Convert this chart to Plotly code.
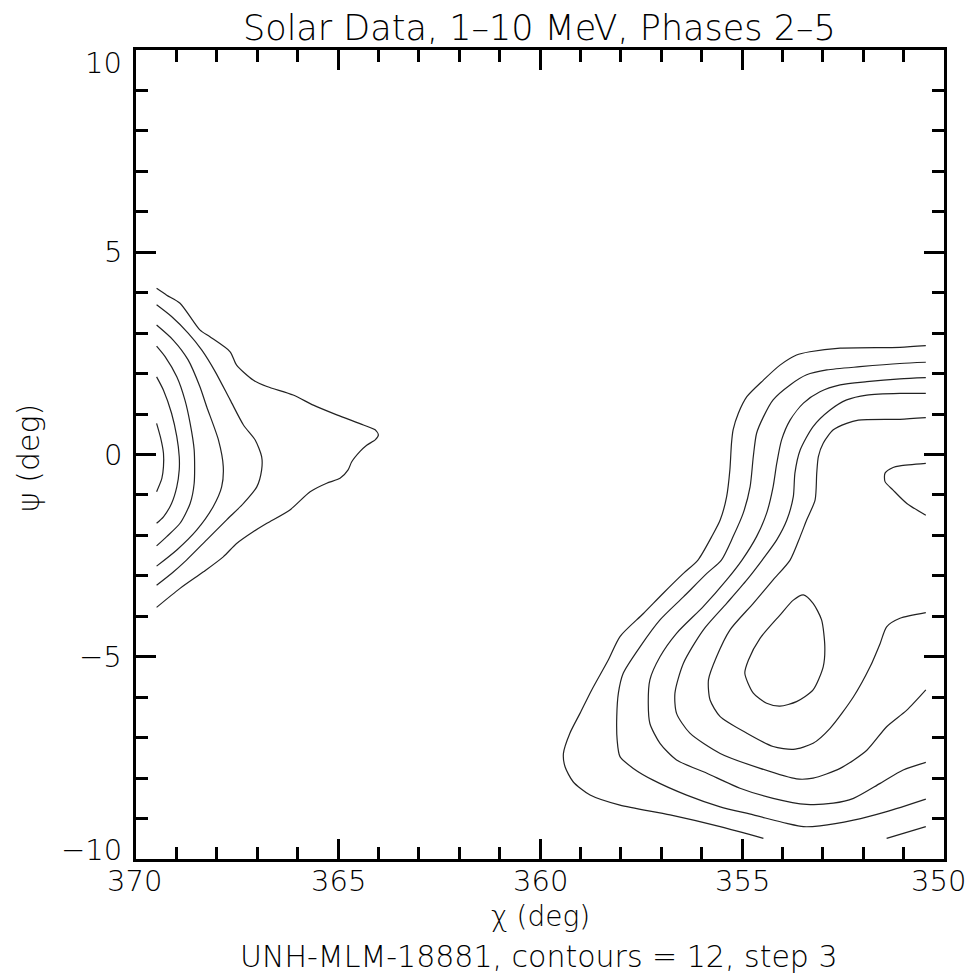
import plotly.graph_objects as go

# ---------------- text ----------------
title_text = "Solar Data, 1–10 MeV, Phases 2–5"
x_title = "χ (deg)"
y_title = "ψ (deg)"
caption = "UNH-MLM-18881, contours = 12, step 3"

x_tick_vals = [370, 365, 360, 355, 350]
x_tick_text = ["370", "365", "360", "355", "350"]
y_tick_vals = [10, 5, 0, -5, -10]
y_tick_text = ["10", "5", "0", "−5", "−10"]

# ---------------- contour lines (chi, psi) ----------------
left1_chi = [369.49, 369.39, 369.32, 369.32, 369.36, 369.49]
left1_psi = [0.77, 0.41, 0.03, -0.30, -0.59, -0.92]

left2_chi = [369.49, 369.32, 369.12, 368.99, 368.93, 368.93, 368.99, 369.12, 369.32, 369.49]
left2_psi = [1.92, 1.59, 1.02, 0.44, -0.05, -0.38, -0.80, -1.21, -1.54, -1.70]

left3_chi = [369.49, 369.28, 368.99, 368.79, 368.66, 368.56, 368.56, 368.66, 368.91, 369.24, 369.49]
left3_psi = [2.68, 2.42, 1.92, 1.35, 0.77, 0.11, -0.71, -1.21, -1.70, -2.03, -2.26]

left4_chi = [369.49, 369.08, 368.71, 368.42, 368.25, 367.96, 367.84, 367.88, 368.09, 368.50, 368.99, 369.49]
left4_psi = [3.20, 2.83, 2.34, 1.68, 1.18, 0.36, -0.30, -0.80, -1.29, -1.87, -2.36, -2.76]

left5_chi = [369.49, 369.12, 368.71, 368.37, 368.04, 367.67, 367.34, 367.05, 366.89, 366.89,
             367.01, 367.34, 367.75, 368.25, 368.75, 369.12, 369.49]
left5_psi = [3.70, 3.41, 3.00, 2.58, 2.05, 1.35, 0.73, 0.36, -0.05, -0.38,
             -0.80, -1.21, -1.61, -2.11, -2.61, -2.94, -3.23]

left6_chi = [369.49, 369.24, 368.91, 368.42, 368.17, 367.67, 367.51, 367.10, 366.76, 366.11,
             365.61, 365.03, 364.37, 364.08, 364.00, 364.08, 364.29, 364.46, 364.66, 364.75,
             364.95, 365.28, 365.69, 366.19, 366.76, 367.10, 367.51, 367.84, 368.33, 368.91, 369.49]
left6_psi = [4.11, 3.94, 3.74, 3.08, 2.91, 2.54, 2.21, 1.84, 1.68, 1.47,
             1.22, 0.98, 0.73, 0.61, 0.48, 0.36, 0.23, 0.07, -0.18, -0.38,
             -0.59, -0.71, -0.92, -1.37, -1.70, -1.91, -2.20, -2.53, -2.90, -3.31, -3.78]

right1_chi = [350.45, 351.09, 352.57, 353.32, 353.65, 354.06, 354.47, 354.88, 355.09, 355.22,
              355.26, 355.30, 355.38, 355.54, 355.75, 356.09, 356.45, 356.95, 357.44, 358.02,
              358.31, 358.72, 359.01, 359.26, 359.42, 359.38, 359.18, 358.76, 358.02, 356.78,
              355.54, 354.47]
right1_psi = [2.69, 2.65, 2.63, 2.54, 2.46, 2.21, 1.84, 1.43, 1.02, 0.61,
              0.28, -0.38, -1.04, -1.62, -2.03, -2.61, -2.94, -3.43, -3.93, -4.50,
              -5.08, -5.82, -6.40, -6.89, -7.39, -7.72, -8.09, -8.42, -8.67, -8.91,
              -9.20, -9.49]

right2_chi = [350.45, 351.09, 352.08, 352.90, 353.40, 353.81, 354.23, 354.47, 354.64, 354.72,
              354.80, 354.97, 355.22, 355.51, 355.87, 356.45, 357.03, 357.52, 357.94, 358.06,
              358.10, 358.09, 358.02, 357.69, 357.20, 356.37, 355.54, 354.72, 353.89, 353.48,
              353.07, 352.24, 351.42, 350.45]
right2_psi = [2.28, 2.25, 2.17, 2.09, 1.97, 1.72, 1.35, 0.93, 0.52, -0.05,
              -0.80, -1.45, -2.03, -2.61, -2.94, -3.52, -4.09, -4.75, -5.41, -5.90,
              -6.48, -7.06, -7.47, -7.76, -8.05, -8.42, -8.71, -8.91, -9.12, -9.20,
              -9.18, -9.04, -8.83, -8.52]

right3_chi = [350.45, 351.09, 351.91, 352.57, 353.07, 353.48, 353.81, 354.02, 354.14, 354.23,
              354.39, 354.64, 355.00, 355.38, 355.96, 356.62, 357.03, 357.28, 357.32, 357.28,
              357.03, 356.62, 355.87, 355.05, 354.23, 353.40, 352.74, 352.24, 351.58, 351.01,
              350.45]
right3_psi = [1.90, 1.87, 1.80, 1.72, 1.55, 1.27, 0.85, 0.36, -0.22, -0.80,
              -1.45, -2.03, -2.61, -3.10, -3.76, -4.42, -5.00, -5.57, -6.15, -6.65,
              -7.14, -7.55, -7.88, -8.25, -8.50, -8.65, -8.62, -8.50, -8.13, -7.80,
              -7.61]

right4_chi = [350.45, 351.09, 351.91, 352.41, 352.82, 353.24, 353.56, 353.69, 353.73, 353.89,
              354.14, 354.50, 354.88, 355.38, 355.96, 356.45, 356.66, 356.62, 356.29, 355.54,
              354.55, 353.65, 353.24, 352.57, 351.91, 351.42, 350.92, 350.45]
right4_psi = [1.51, 1.51, 1.47, 1.35, 1.10, 0.69, 0.11, -0.46, -1.04, -1.62,
              -2.11, -2.61, -3.10, -3.68, -4.34, -5.16, -5.90, -6.40, -6.89, -7.39,
              -7.76, -8.02, -8.00, -7.76, -7.31, -6.73, -6.32, -5.82]

right5_chi = [350.45, 351.09, 352.12, 352.41, 352.74, 352.99, 353.11, 353.15, 353.19, 353.40,
              353.56, 353.81, 354.23, 354.72, 355.30, 355.63, 355.83, 355.79, 355.54, 354.88,
              354.23, 353.73, 353.24, 352.82, 352.24, 351.83, 351.58, 351.42, 351.09, 350.45]
right5_psi = [0.91, 0.87, 0.85, 0.77, 0.61, 0.28, -0.05, -0.46, -1.12, -1.62,
              -2.03, -2.61, -3.10, -3.68, -4.34, -5.00, -5.57, -6.07, -6.48, -6.89,
              -7.22, -7.29, -7.14, -6.77, -5.99, -5.25, -4.67, -4.26, -4.05, -3.91]

right6_chi = [353.48, 353.24, 353.03, 352.95, 352.99, 353.24, 353.65, 354.06, 354.39, 354.72,
              354.93, 354.84, 354.55, 354.06, 353.73, 353.48]
right6_psi = [-3.47, -3.68, -4.09, -4.75, -5.25, -5.82, -6.11, -6.22, -6.15, -5.90,
              -5.41, -5.08, -4.54, -3.97, -3.60, -3.47]

right7_chi = [351.42, 350.45]
right7_psi = [-9.49, -9.20]

right8_chi = [350.45, 351.09, 351.26, 351.46, 351.46, 351.26, 350.92, 350.45]
right8_psi = [-0.22, -0.28, -0.32, -0.46, -0.67, -0.88, -1.21, -1.50]

contours = [
    (left1_chi, left1_psi), (left2_chi, left2_psi), (left3_chi, left3_psi),
    (left4_chi, left4_psi), (left5_chi, left5_psi), (left6_chi, left6_psi),
    (right1_chi, right1_psi), (right2_chi, right2_psi), (right3_chi, right3_psi),
    (right4_chi, right4_psi), (right5_chi, right5_psi), (right6_chi, right6_psi),
    (right7_chi, right7_psi), (right8_chi, right8_psi),
]

FONT = "DejaVu Sans ExtraLight, DejaVu Sans"
W, H = 975, 975
L, R, T, B = 136, 31, 50, 116
PW, PH = W - L - R, H - T - B


def px2paper(px):
    return (px - L) / PW


def py2paper(py):
    return (H - B - py) / PH


fig = go.Figure()
for cx, cy in contours:
    fig.add_trace(go.Scatter(
        x=cx, y=cy, mode="lines",
        line=dict(color="#222222", width=1.2, shape="spline", smoothing=0.7),
        hoverinfo="skip", showlegend=False,
    ))

axis_common = dict(
    showgrid=False, zeroline=False, showline=True, linewidth=3, linecolor="black",
    mirror="ticks", ticks="inside", ticklen=20, tickwidth=3, tickcolor="black",
    showticklabels=False,
    minor=dict(ticks="inside", ticklen=12, tickwidth=2.5, tickcolor="black",
               dtick=1, showgrid=False),
)

fig.update_xaxes(range=[370, 350], tickmode="linear", tick0=350, dtick=5, **axis_common)
fig.update_yaxes(range=[-10, 10], tickmode="linear", tick0=-10, dtick=5, **axis_common)

annotations = []
# x tick labels
for v, t in zip(x_tick_vals, x_tick_text):
    shift = 0
    if v == x_tick_vals[0]:
        shift = -2
    elif v == x_tick_vals[-1]:
        shift = -6
    annotations.append(dict(
        x=v, xref="x", y=py2paper(881), yref="paper", text=t, showarrow=False,
        xanchor="center", yanchor="middle", xshift=shift,
        font=dict(family=FONT, size=29, color="black", weight=200),
    ))
# y tick labels
for v, t in zip(y_tick_vals, y_tick_text):
    shift = 0
    if v == y_tick_vals[0]:
        shift = -13
    elif v == y_tick_vals[-1]:
        shift = 9
    annotations.append(dict(
        x=px2paper(124), xref="paper", y=v, yref="y", text=t, showarrow=False,
        xanchor="right", yanchor="middle", yshift=shift,
        font=dict(family=FONT, size=29, color="black", weight=200),
    ))

annotations += [
    dict(x=px2paper(539), y=py2paper(28), xref="paper", yref="paper", text=title_text,
         showarrow=False, xanchor="center", yanchor="middle",
         font=dict(family=FONT, size=35, color="black", weight=200)),
    dict(x=px2paper(540), y=py2paper(917), xref="paper", yref="paper", text=x_title,
         showarrow=False, xanchor="center", yanchor="middle",
         font=dict(family=FONT, size=28, color="black", weight=200)),
    dict(x=px2paper(539), y=py2paper(956), xref="paper", yref="paper", text=caption,
         showarrow=False, xanchor="center", yanchor="middle",
         font=dict(family=FONT, size=30, color="black", weight=200)),
    dict(x=px2paper(28), y=py2paper(458), xref="paper", yref="paper", text=y_title,
         showarrow=False, xanchor="center", yanchor="middle", textangle=-90,
         font=dict(family=FONT, size=30, color="black", weight=200)),
]

fig.update_layout(
    width=W, height=H,
    margin=dict(l=L, r=R, t=T, b=B, pad=0),
    plot_bgcolor="white", paper_bgcolor="white",
    showlegend=False,
    annotations=annotations,
)

fig.write_html("out.html")
